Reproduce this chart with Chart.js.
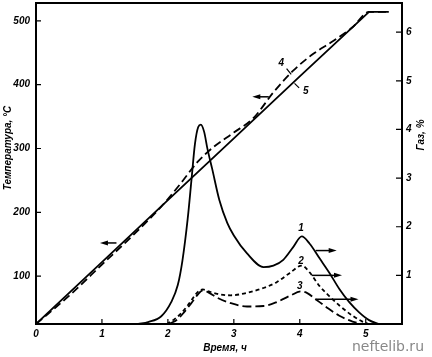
<!DOCTYPE html>
<html><head><meta charset="utf-8">
<script src="https://cdn.jsdelivr.net/npm/chart.js@4"></script>
<style>html,body{margin:0;padding:0;background:#fff}#wrap{width:432px;height:357px}</style>
</head><body><div id="wrap"><canvas id="c" width="432" height="357"></canvas></div>
<script>
// Tick labels
const xTicks = [0, 1, 2, 3, 4, 5];
const tempTicks = [100, 200, 300, 400, 500];
const gasTicks = [1, 2, 3, 4, 5, 6];

// Temperature, curve 5 (solid)
const t5Time = [0, 1, 2, 3, 4, 5.05, 5.35];
const t5Temp = [25, 122, 219, 316, 413, 514, 514];

// Temperature, curve 4 (dashed)
const t4Time = [0, 0.5, 1.0, 1.5, 1.9, 2.2, 2.45, 2.7, 3.0, 3.3, 3.6, 3.9, 4.2, 4.5, 4.8, 5.05, 5.35];
const t4Temp = [25, 69, 118, 167, 209, 246, 279, 303, 325, 348, 388, 422, 448, 468, 490, 514, 514];

// Gas, curve 1 (solid)
const g1Time = [1.55, 1.7, 1.9, 2.05, 2.15, 2.22, 2.3, 2.36, 2.41, 2.46, 2.5, 2.55, 2.6, 2.67, 2.78, 2.9, 3.0, 3.2, 3.45, 3.6, 3.75, 3.9, 4.03, 4.15, 4.3, 4.45, 4.6, 4.75, 4.9, 5.05, 5.2];
const g1Val  = [0, 0.04, 0.16, 0.45, 0.8, 1.3, 2.16, 3.0, 3.7, 4.05, 4.1, 3.95, 3.6, 3.2, 2.55, 2.08, 1.82, 1.45, 1.17, 1.2, 1.32, 1.58, 1.8, 1.65, 1.35, 1.05, 0.72, 0.45, 0.24, 0.08, 0];

// Gas, curve 2 (short dashes)
const g2Time = [1.98, 2.1, 2.2, 2.3, 2.4, 2.47, 2.53, 2.62, 2.75, 2.95, 3.2, 3.45, 3.65, 3.85, 4.03, 4.15, 4.3, 4.45, 4.6, 4.8, 4.95, 5.05];
const g2Val  = [0, 0.1, 0.22, 0.38, 0.57, 0.68, 0.71, 0.67, 0.62, 0.59, 0.64, 0.74, 0.86, 1.05, 1.2, 1.06, 0.78, 0.57, 0.38, 0.17, 0.05, 0];

// Gas, curve 3 (long dashes)
const g3Time = [2.02, 2.15, 2.25, 2.35, 2.45, 2.53, 2.6, 2.75, 2.95, 3.2, 3.45, 3.65, 3.85, 4.02, 4.12, 4.25, 4.4, 4.6, 4.8, 4.95];
const g3Val  = [0, 0.1, 0.25, 0.42, 0.6, 0.69, 0.66, 0.54, 0.43, 0.36, 0.37, 0.45, 0.58, 0.67, 0.63, 0.5, 0.35, 0.17, 0.05, 0];

// Curve labels [text, time, value, axis]
const curveLabels = [
  ['1', 4.02, 1.96, 'y1'], ['2', 4.02, 1.3, 'y1'], ['3', 4.0, 0.77, 'y1'],
  ['4', 3.72, 434, 'y'], ['5', 4.09, 389, 'y']
];
// Arrows [fromTime, toTime, value, axis] (head at toTime)
const arrows = [
  [1.22, 0.97, 152, 'y'], [3.53, 3.28, 381, 'y'],
  [4.24, 4.56, 1.51, 'y1'], [4.18, 4.64, 1.0, 'y1'], [4.24, 4.89, 0.51, 'y1']
];

const pts = (xs, ys) => xs.map((x, i) => ({x: x, y: ys[i]}));
const F = 'bold italic 10px "Liberation Sans", Arial, sans-serif';
const tickFont = {family: '"Liberation Sans", Arial, sans-serif', size: 10, weight: 'bold', style: 'italic'};

const deco = {
  id: 'deco',
  afterDraw(chart) {
    const ctx = chart.ctx, a = chart.chartArea;
    const sx = chart.scales.x, sy = chart.scales.y, sy1 = chart.scales.y1;
    ctx.save();
    ctx.strokeStyle = '#000'; ctx.fillStyle = '#000';
    ctx.lineWidth = 2;
    ctx.strokeRect(a.left, a.top, a.right - a.left, a.bottom - a.top);
    ctx.lineWidth = 1.2;
    ctx.beginPath();
    xTicks.forEach(v => { const p = sx.getPixelForValue(v); ctx.moveTo(p, a.bottom); ctx.lineTo(p, a.bottom - 5); });
    tempTicks.forEach(v => { const p = sy.getPixelForValue(v); ctx.moveTo(a.left, p); ctx.lineTo(a.left + 5, p); });
    gasTicks.forEach(v => { const p = sy1.getPixelForValue(v); ctx.moveTo(a.right, p); ctx.lineTo(a.right - 6, p); });
    ctx.stroke();
    // axis titles
    ctx.font = F; ctx.textAlign = 'center'; ctx.textBaseline = 'middle';
    ctx.fillText('Время, ч', 225, 348);
    ctx.save(); ctx.translate(8, 148); ctx.rotate(-Math.PI / 2); ctx.fillText('Температура, °С', 0, 0); ctx.restore();
    ctx.save(); ctx.translate(421, 135); ctx.rotate(-Math.PI / 2); ctx.fillText('Газ, %', 0, 0); ctx.restore();
    // curve labels
    curveLabels.forEach(([t, x, v, ax]) => {
      ctx.fillText(t, sx.getPixelForValue(x), chart.scales[ax].getPixelForValue(v));
    });
    // leader lines for 4 and 5
    ctx.lineWidth = 1.2;
    ctx.beginPath();
    ctx.moveTo(sx.getPixelForValue(3.8), sy.getPixelForValue(425));
    ctx.lineTo(sx.getPixelForValue(3.87), sy.getPixelForValue(416));
    ctx.moveTo(sx.getPixelForValue(3.92), sy.getPixelForValue(402));
    ctx.lineTo(sx.getPixelForValue(3.99), sy.getPixelForValue(395));
    ctx.stroke();
    // arrows
    arrows.forEach(([x0, x1, v, ax]) => {
      const p0 = sx.getPixelForValue(x0), p1 = sx.getPixelForValue(x1), py = chart.scales[ax].getPixelForValue(v);
      const dir = Math.sign(p1 - p0);
      ctx.lineWidth = 1.5;
      ctx.beginPath(); ctx.moveTo(p0, py); ctx.lineTo(p1 - dir * 5, py); ctx.stroke();
      ctx.beginPath(); ctx.moveTo(p1, py); ctx.lineTo(p1 - dir * 8, py - 2.5); ctx.lineTo(p1 - dir * 8, py + 2.5); ctx.closePath(); ctx.fill();
    });
    // watermark
    ctx.font = '14px "DejaVu Sans", sans-serif'; ctx.fillStyle = '#888'; ctx.textAlign = 'right';
    ctx.fillText('neftelib.ru', 424, 347);
    ctx.restore();
  }
};

const common = {borderColor: '#000', borderWidth: 1.8, pointRadius: 0, fill: false};
new Chart(document.getElementById('c'), {
  type: 'line',
  data: {
    datasets: [
      Object.assign({label: '5', data: pts(t5Time, t5Temp), yAxisID: 'y', tension: 0}, common),
      Object.assign({label: '4', data: pts(t4Time, t4Temp), yAxisID: 'y', borderDash: [8, 4], cubicInterpolationMode: 'monotone'}, common),
      Object.assign({label: '1', data: pts(g1Time, g1Val), yAxisID: 'y1', cubicInterpolationMode: 'monotone'}, common),
      Object.assign({label: '2', data: pts(g2Time, g2Val), yAxisID: 'y1', borderDash: [4, 3], cubicInterpolationMode: 'monotone'}, common),
      Object.assign({label: '3', data: pts(g3Time, g3Val), yAxisID: 'y1', borderDash: [9, 4], cubicInterpolationMode: 'monotone'}, common)
    ]
  },
  options: {
    responsive: false, animation: false, devicePixelRatio: 1,
    layout: {padding: {top: 3, left: 0, right: 0, bottom: 0}},
    plugins: {legend: {display: false}, tooltip: {enabled: false}},
    scales: {
      x: {type: 'linear', min: 0, max: 5.55,
        afterBuildTicks: s => { s.ticks = xTicks.map(v => ({value: v})); },
        afterFit: s => { s.height = 33; s.paddingLeft = 0; s.paddingRight = 0; },
        grid: {display: false, drawTicks: false}, border: {display: false},
        ticks: {color: '#000', font: tickFont, padding: 4, maxRotation: 0, callback: v => String(v)}},
      y: {type: 'linear', position: 'left', min: 25, max: 528,
        afterBuildTicks: s => { s.ticks = tempTicks.map(v => ({value: v})); },
        afterFit: s => { s.width = 36; s.paddingTop = 0; s.paddingBottom = 0; },
        grid: {display: false, drawTicks: false}, border: {display: false},
        ticks: {color: '#000', font: tickFont, padding: 6, callback: v => String(v)}},
      y1: {type: 'linear', position: 'right', min: 0, max: 6.6,
        afterBuildTicks: s => { s.ticks = gasTicks.map(v => ({value: v})); },
        afterFit: s => { s.width = 30; s.paddingTop = 0; s.paddingBottom = 0; },
        grid: {display: false, drawTicks: false}, border: {display: false},
        ticks: {color: '#000', font: tickFont, padding: 4, callback: v => String(v)}}
    }
  },
  plugins: [deco]
});
</script>
</body></html>
